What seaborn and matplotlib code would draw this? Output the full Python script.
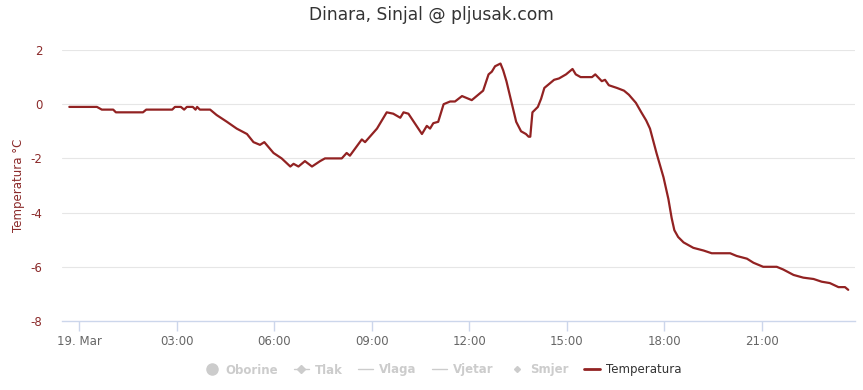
import matplotlib
matplotlib.use("Agg")
import matplotlib.pyplot as plt
import matplotlib.dates as mdates
from matplotlib.lines import Line2D
import seaborn as sns
import pandas as pd

times = [
    "03-18 23:42", "03-19 00:33", "03-19 00:42", "03-19 01:03", "03-19 01:08", "03-19 01:58",
    "03-19 02:04", "03-19 02:52", "03-19 02:57", "03-19 03:08", "03-19 03:14", "03-19 03:19",
    "03-19 03:30", "03-19 03:35", "03-19 03:38", "03-19 03:43", "03-19 04:02", "03-19 04:14",
    "03-19 04:33", "03-19 04:51", "03-19 05:10", "03-19 05:22", "03-19 05:34", "03-19 05:42",
    "03-19 05:59", "03-19 06:14", "03-19 06:30", "03-19 06:36", "03-19 06:45", "03-19 06:57",
    "03-19 07:10", "03-19 07:25", "03-19 07:34", "03-19 08:05", "03-19 08:14", "03-19 08:20",
    "03-19 08:42", "03-19 08:48", "03-19 09:10", "03-19 09:28", "03-19 09:40", "03-19 09:53",
    "03-19 09:59", "03-19 10:08", "03-19 10:23", "03-19 10:33", "03-19 10:42", "03-19 10:48",
    "03-19 10:54", "03-19 11:03", "03-19 11:13", "03-19 11:25", "03-19 11:34", "03-19 11:47",
    "03-19 12:05", "03-19 12:14", "03-19 12:26", "03-19 12:36", "03-19 12:42", "03-19 12:48",
    "03-19 12:58", "03-19 13:03", "03-19 13:09", "03-19 13:18", "03-19 13:27", "03-19 13:36",
    "03-19 13:45", "03-19 13:50", "03-19 13:53", "03-19 13:57", "03-19 14:07", "03-19 14:13",
    "03-19 14:19", "03-19 14:28", "03-19 14:37", "03-19 14:46", "03-19 14:59", "03-19 15:05",
    "03-19 15:11", "03-19 15:17", "03-19 15:26", "03-19 15:47", "03-19 15:53", "03-19 16:05",
    "03-19 16:11", "03-19 16:18", "03-19 16:33", "03-19 16:46", "03-19 16:55", "03-19 17:08",
    "03-19 17:18", "03-19 17:27", "03-19 17:34", "03-19 17:46", "03-19 17:59", "03-19 18:08",
    "03-19 18:14", "03-19 18:19", "03-19 18:26", "03-19 18:36", "03-19 18:54", "03-19 19:13",
    "03-19 19:28", "03-19 20:02", "03-19 20:14", "03-19 20:33", "03-19 20:45", "03-19 21:03",
    "03-19 21:28", "03-19 21:40", "03-19 21:59", "03-19 22:17", "03-19 22:36", "03-19 22:51",
    "03-19 23:06", "03-19 23:22", "03-19 23:34", "03-19 23:40",
]
temperatura = [
    -0.1, -0.1, -0.2, -0.2, -0.3, -0.3,
    -0.2, -0.2, -0.1, -0.1, -0.2, -0.1,
    -0.1, -0.2, -0.1, -0.2, -0.2, -0.4,
    -0.65, -0.9, -1.1, -1.4, -1.5, -1.4,
    -1.8, -2.0, -2.3, -2.2, -2.3, -2.1,
    -2.3, -2.1, -2.0, -2.0, -1.8, -1.9,
    -1.3, -1.4, -0.9, -0.3, -0.35, -0.5,
    -0.3, -0.35, -0.8, -1.1, -0.8, -0.9,
    -0.7, -0.65, 0.0, 0.1, 0.1, 0.3,
    0.15, 0.3, 0.5, 1.1, 1.2, 1.4,
    1.5, 1.25, 0.85, 0.1, -0.65, -1.0,
    -1.1, -1.2, -1.2, -0.3, -0.1, 0.2,
    0.6, 0.75, 0.9, 0.95, 1.1, 1.2,
    1.3, 1.1, 1.0, 1.0, 1.1, 0.85,
    0.9, 0.7, 0.6, 0.5, 0.35, 0.05,
    -0.3, -0.6, -0.9, -1.8, -2.7, -3.5,
    -4.2, -4.65, -4.9, -5.1, -5.3, -5.4,
    -5.5, -5.5, -5.6, -5.7, -5.85, -6.0,
    -6.0, -6.1, -6.3, -6.4, -6.45, -6.55,
    -6.6, -6.75, -6.75, -6.85,
]
y_ticks = [-8, -6, -4, -2, 0, 2]
legend_names = ["Oborine", "Tlak", "Vlaga", "Vjetar", "Smjer", "Temperatura"]
title = "Dinara, Sinjal @ pljusak.com"
y_label = "Temperatura °C"

df = pd.DataFrame({
    "time": pd.to_datetime(["2018-" + t for t in times], format="%Y-%m-%d %H:%M"),
    "temp": temperatura,
})

sns.set_theme(style="white")
plt.rcParams["font.family"] = ["DejaVu Sans"]
plt.rcParams["axes.unicode_minus"] = False

line_color = "#922222"
fig = plt.figure(figsize=(8.63, 3.90), dpi=100)
ax = fig.add_axes([62 / 863, 1 - 321 / 390, (855 - 62) / 863, (321 - 50) / 390])

sns.lineplot(data=df, x="time", y="temp", ax=ax, color=line_color, linewidth=1.6, legend=False)

ax.set_xlim(pd.Timestamp("2018-03-18 23:28:30"), pd.Timestamp("2018-03-19 23:52:30"))
ax.set_ylim(-8, 2)
ax.set_yticks(y_ticks)
ax.set_yticklabels([str(v) for v in y_ticks])
for v in y_ticks[1:]:
    ax.axhline(v, color="#e6e6e6", linewidth=0.8, zorder=0)

ax.xaxis.set_major_locator(mdates.HourLocator(byhour=range(0, 24, 3)))
def fmt(x, pos=None):
    d = mdates.num2date(x)
    return "19. Mar" if d.hour == 0 else d.strftime("%H:%M")
ax.xaxis.set_major_formatter(plt.FuncFormatter(fmt))

for side in ["top", "right", "left"]:
    ax.spines[side].set_visible(False)
ax.spines["bottom"].set_color("#ccd6eb")
ax.spines["bottom"].set_linewidth(1.0)
ax.tick_params(axis="x", bottom=True, colors="#ccd6eb", length=7, width=1, direction="out",
               pad=3, labelsize=8.5, labelcolor="#666666")
ax.tick_params(axis="y", left=False, length=0, pad=14, labelsize=8.5, labelcolor="#8b2a2a")
ax.set_xlabel("")
ax.set_ylabel(y_label, color="#8b2a2a", fontsize=8.5)
ax.yaxis.set_label_coords(-0.047, 0.5)
ax.grid(False)

fig.text(0.5, 1 - 15 / 390, title, ha="center", va="center", fontsize=12.3, color="#333333")

hidden = "#cccccc"
handles = [
    Line2D([], [], linestyle="none", marker="o", markersize=8, color=hidden),
    Line2D([], [], color=hidden, linewidth=1, marker="D", markersize=4),
    Line2D([], [], color=hidden, linewidth=1),
    Line2D([], [], color=hidden, linewidth=1),
    Line2D([], [], linestyle="none", marker="D", markersize=3, color=hidden),
    Line2D([], [], color=line_color, linewidth=2),
]
leg = fig.legend(handles, legend_names, loc="center", bbox_to_anchor=(0.513, 1 - 370 / 390),
                 ncol=6, frameon=False, fontsize=8.5, handlelength=1.3, handletextpad=0.5,
                 columnspacing=1.3)
for i, t in enumerate(leg.get_texts()):
    t.set_color("#333333" if i == 5 else hidden)
    if i < 5:
        t.set_fontweight("bold")

fig.savefig("out.png", dpi=100)
